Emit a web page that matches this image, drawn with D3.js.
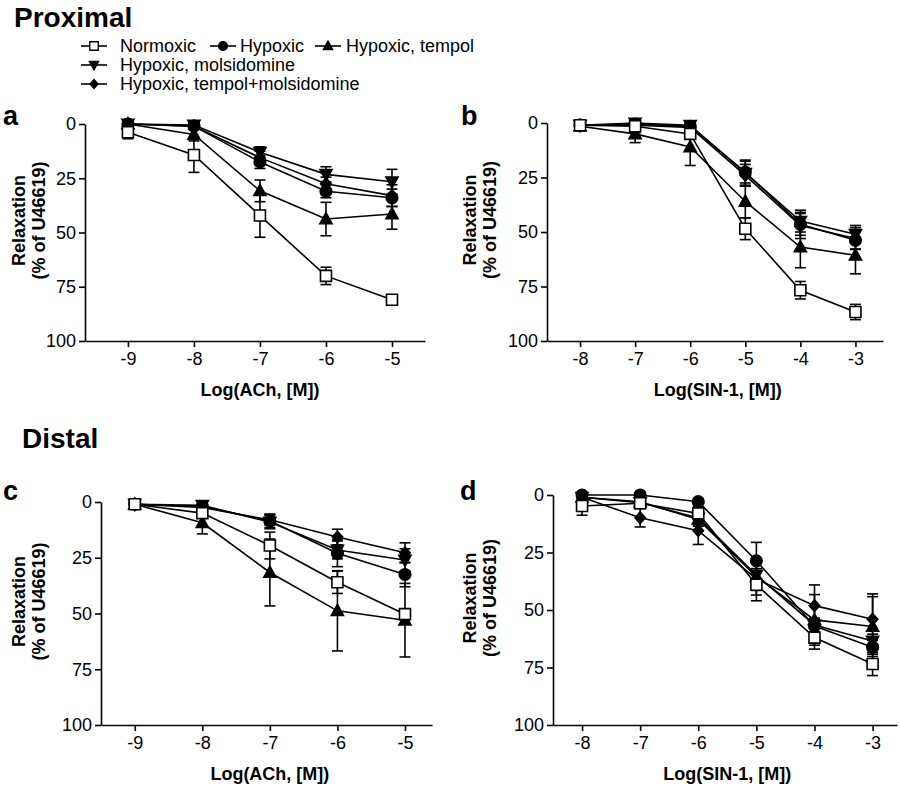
<!DOCTYPE html>
<html>
<head>
<meta charset="utf-8">
<script src="https://cdn.jsdelivr.net/npm/d3@7"></script>
<style>
  html, body { margin: 0; padding: 0; background: #fff; }
  svg { display: block; }
  text { font-family: "Liberation Sans", Arial, Helvetica, sans-serif; fill: #000; }
</style>
</head>
<body>
<svg id="chart" width="900" height="788"></svg>
<script>
// ---------------- DATA ----------------
const seriesNames = ["Normoxic", "Hypoxic", "Hypoxic, tempol", "Hypoxic, molsidomine", "Hypoxic, tempol+molsidomine"];
const seriesMarkers = ["square", "circle", "triangleUp", "triangleDown", "diamond"];
const achDoses = [-9, -8, -7, -6, -5];
const sinDoses = [-8, -7, -6, -5, -4, -3];
const yTickValues = [0, 25, 50, 75, 100];
const achTickLabels = ["-9", "-8", "-7", "-6", "-5"];
const sinTickLabels = ["-8", "-7", "-6", "-5", "-4", "-3"];

// Panel a: Proximal, ACh  (rows follow seriesNames)
const proxAchMeans = [
  [3.8, 14.3, 42.2, 70, 81],
  [0, 1, 17.5, 31, 34],
  [0, 4.8, 30.8, 43.8, 41.5],
  [0, 0.5, 13, 23.2, 26.6],
  [0, 1, 15.5, 27.5, 33]
];
const proxAchSems = [
  [3, 8, 10, 4, 1.5],
  [1, 1.5, 3, 3, 4],
  [1, 3, 5, 7.7, 7],
  [1, 1, 2.5, 3.5, 5.7],
  [1, 1, 3, 3, 5]
];
// Panel b: Proximal, SIN-1
const proxSinMeans = [
  [1, 1.5, 5, 48.5, 76.7, 86.7],
  [1, 0.5, 1.5, 22.5, 46.5, 53.8],
  [1.5, 5, 11, 36, 56.9, 60.7],
  [1, 0, 1, 23, 45, 51],
  [1, 1, 2, 24, 47, 53]
];
const proxSinSems = [
  [2, 3, 2, 5, 4, 3.5],
  [1, 1, 1, 5, 5, 4],
  [1, 4, 8.5, 7.5, 9.5, 8.5],
  [1, 1, 1, 6, 5, 4],
  [1, 1, 1, 5, 6, 5]
];
// Panel c: Distal, ACh
const distAchMeans = [
  [1, 5, 19.5, 36, 50.3],
  [1, 2, 8.5, 23, 32.5],
  [1, 9.3, 31.6, 48.8, 53],
  [1, 1.5, 9, 21.5, 26],
  [1, 2.5, 8, 15.7, 22.8]
];
const distAchSems = [
  [1, 2, 6, 5, 2],
  [1, 1, 3, 6, 5.5],
  [1, 5, 15, 18, 16.5],
  [1, 1, 3, 4, 5],
  [1, 1, 2.5, 3.5, 4.5]
];
// Panel d: Distal, SIN-1
const distSinMeans = [
  [4.8, 3.6, 8, 39, 62, 73.5],
  [0, 0, 2.9, 28.6, 57, 66.2],
  [1, 3, 10.6, 35.5, 54.3, 57.2],
  [1, 3.3, 10, 34.8, 56.5, 63.5],
  [1, 9.9, 15.5, 36.5, 48.1, 54]
];
const distSinSems = [
  [4, 2, 3, 7, 5, 5],
  [1, 1, 1, 8, 3, 3],
  [1, 1, 3, 6, 11, 13],
  [1, 1, 3, 6, 3, 3],
  [1, 4, 6, 7, 9, 11]
];

// ---------------- LAYOUT ----------------
const panels = [
  { letter: "a", doses: achDoses, tickLabels: achTickLabels, means: proxAchMeans, sems: proxAchSems,
    xTitle: "Log(ACh, [M])", left: 85, right: 425, top: 124, bottom: 341, xDomain: [-9.65, -4.5],
    letterPos: [3, 125], yTitleX: [25, 45] },
  { letter: "b", doses: sinDoses, tickLabels: sinTickLabels, means: proxSinMeans, sems: proxSinSems,
    xTitle: "Log(SIN-1, [M])", left: 547, right: 883, top: 123, bottom: 341, xDomain: [-8.6, -2.5],
    letterPos: [461, 125], yTitleX: [476, 496] },
  { letter: "c", doses: achDoses, tickLabels: achTickLabels, means: distAchMeans, sems: distAchSems,
    xTitle: "Log(ACh, [M])", left: 101, right: 432, top: 502, bottom: 725, xDomain: [-9.5, -4.6],
    letterPos: [3, 500], yTitleX: [25, 45] },
  { letter: "d", doses: sinDoses, tickLabels: sinTickLabels, means: distSinMeans, sems: distSinSems,
    xTitle: "Log(SIN-1, [M])", left: 553, right: 897, top: 495, bottom: 725, xDomain: [-8.5, -2.58],
    letterPos: [460, 500], yTitleX: [476, 496] }
];

const drawOrder = [1, 2, 3, 4, 0];
const SW = 1.6;
const FONT = '"Liberation Sans", Arial, Helvetica, sans-serif';

function markerPath(type, s) {
  const h = s / 2;
  switch (type) {
    case "square": return `M${-h},${-h}H${h}V${h}H${-h}Z`;
    case "circle": return d3.symbol(d3.symbolCircle, Math.PI * h * h * 1.1)();
    case "triangleUp": return `M0,${-h * 1.15}L${h * 1.1},${h * 0.85}L${-h * 1.1},${h * 0.85}Z`;
    case "triangleDown": return `M0,${h * 1.15}L${h * 1.1},${-h * 0.85}L${-h * 1.1},${-h * 0.85}Z`;
    case "diamond": return `M0,${-h * 1.05}L${h * 0.95},0L0,${h * 1.05}L${-h * 0.95},0Z`;
  }
}

const svg = d3.select("#chart");

// Section titles
svg.append("text").attr("x", 14).attr("y", 27).attr("font-size", 28).attr("font-weight", "bold").text("Proximal");
svg.append("text").attr("x", 22).attr("y", 448).attr("font-size", 28).attr("font-weight", "bold").text("Distal");

// Legend
const legendItems = [
  { i: 0, sx: 94, tx: 120, y: 52 },
  { i: 1, sx: 223, tx: 240, y: 52 },
  { i: 2, sx: 328, tx: 346, y: 52 },
  { i: 3, sx: 94, tx: 120, y: 71 },
  { i: 4, sx: 94, tx: 120, y: 90 }
];
const lg = svg.append("g");
legendItems.forEach(it => {
  const cy = it.y - 6;
  lg.append("line").attr("x1", it.sx - 13).attr("x2", it.sx + 13).attr("y1", cy).attr("y2", cy)
    .attr("stroke", "#000").attr("stroke-width", SW);
  lg.append("path").attr("d", markerPath(seriesMarkers[it.i], 8.5))
    .attr("transform", `translate(${it.sx},${cy})`)
    .attr("fill", seriesMarkers[it.i] === "square" ? "#fff" : "#000")
    .attr("stroke", "#000").attr("stroke-width", 1.3);
  lg.append("text").attr("x", it.tx).attr("y", it.y).attr("font-size", 18).text(seriesNames[it.i]);
});

panels.forEach(p => {
  const g = svg.append("g");
  const x = d3.scaleLinear().domain(p.xDomain).range([p.left, p.right]);
  const y = d3.scaleLinear().domain([0, 100]).range([p.top, p.bottom]);

  // Y axis
  const yAxis = d3.axisLeft(y).tickValues(yTickValues).tickSize(6).tickPadding(3).tickSizeOuter(0);
  const yg = g.append("g").attr("transform", `translate(${p.left},0)`).call(yAxis);
  yg.select(".domain").attr("stroke-width", SW);
  yg.selectAll(".tick line").attr("stroke-width", SW);
  yg.selectAll("text").attr("font-size", 18).attr("font-family", FONT);

  // X axis
  const xAxis = d3.axisBottom(x).tickValues(p.doses).tickFormat((d, i) => p.tickLabels[i])
    .tickSize(6).tickPadding(5).tickSizeOuter(0);
  const xg = g.append("g").attr("transform", `translate(0,${p.bottom})`).call(xAxis);
  xg.select(".domain").attr("stroke-width", SW);
  xg.selectAll(".tick line").attr("stroke-width", SW);
  xg.selectAll("text").attr("font-size", 18).attr("font-family", FONT);

  // Axis titles
  const midX = (x(p.doses[0]) + x(p.doses[p.doses.length - 1])) / 2;
  g.append("text").attr("x", midX).attr("y", p.bottom + 55).attr("text-anchor", "middle")
    .attr("font-size", 18).attr("font-weight", "bold").text(p.xTitle);
  const midY = (p.top + p.bottom) / 2 - 12;
  ["Relaxation", "(% of U46619)"].forEach((t, k) => {
    g.append("text").attr("transform", `translate(${p.yTitleX[k]},${midY}) rotate(-90)`)
      .attr("text-anchor", "middle").attr("font-size", 18).attr("font-weight", "bold").text(t);
  });

  // Panel letter
  g.append("text").attr("x", p.letterPos[0]).attr("y", p.letterPos[1])
    .attr("font-size", 27).attr("font-weight", "bold").text(p.letter);

  // Series
  const line = d3.line().x(d => x(d.dose)).y(d => y(d.mean));
  drawOrder.forEach(si => {
    const pts = p.doses.map((dose, j) => ({ dose, mean: p.means[si][j], sem: p.sems[si][j] }));
    const sg = g.append("g");
    pts.forEach(d => {
      const cx = x(d.dose), y1 = y(d.mean - d.sem), y2 = y(d.mean + d.sem);
      sg.append("line").attr("x1", cx).attr("x2", cx).attr("y1", y1).attr("y2", y2)
        .attr("stroke", "#000").attr("stroke-width", SW);
      [y1, y2].forEach(yy => sg.append("line").attr("x1", cx - 5.5).attr("x2", cx + 5.5)
        .attr("y1", yy).attr("y2", yy).attr("stroke", "#000").attr("stroke-width", SW));
    });
    sg.append("path").datum(pts).attr("d", line).attr("fill", "none")
      .attr("stroke", "#000").attr("stroke-width", SW);
    const type = seriesMarkers[si];
    sg.selectAll("path.m").data(pts).enter().append("path").attr("class", "m")
      .attr("d", markerPath(type, 11))
      .attr("transform", d => `translate(${x(d.dose)},${y(d.mean)})`)
      .attr("fill", type === "square" ? "#fff" : "#000")
      .attr("stroke", "#000").attr("stroke-width", SW);
  });
});
</script>
</body>
</html>
